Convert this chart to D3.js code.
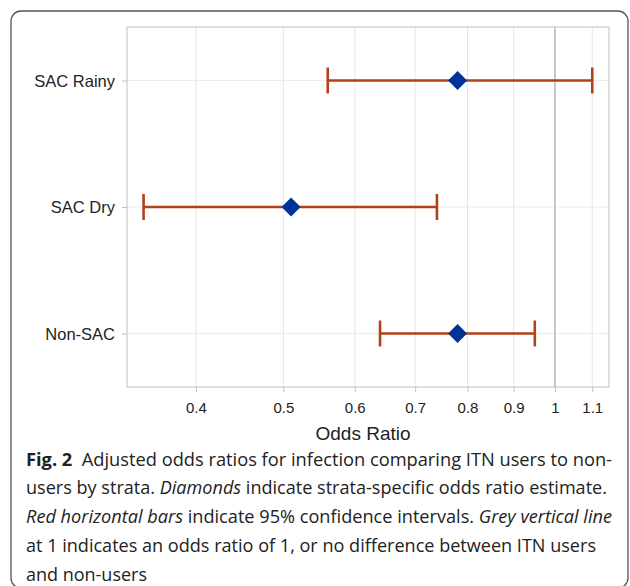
<!DOCTYPE html>
<html><head><meta charset="utf-8">
<script src="https://cdn.jsdelivr.net/npm/d3@7"></script>
<style>body{margin:0;background:#fff}svg{display:block}</style>
</head><body>
<svg id="c" width="630" height="586"></svg>
<script>
const categories = ["SAC Rainy", "SAC Dry", "Non-SAC"];
const estimates = [0.78, 0.51, 0.78];
const lowerCI = [0.56, 0.35, 0.64];
const upperCI = [1.10, 0.74, 0.95];
const tickValues = [0.4, 0.5, 0.6, 0.7, 0.8, 0.9, 1, 1.1];
const tickLabels = ["0.4", "0.5", "0.6", "0.7", "0.8", "0.9", "1", "1.1"];
const refValue = 1;

const svg = d3.select("#c");
const L = 127, R = 609, T = 27, B = 387;

// frame
svg.append("rect").attr("x", 11).attr("y", 11).attr("width", 617).attr("height", 577)
  .attr("rx", 10).attr("fill", "none").attr("stroke", "#555").attr("stroke-width", 1.3);

const x = d3.scaleLog().domain([0.3355, 1.148]).range([L, R]);
const y = d3.scalePoint().domain(categories).range([T, B]).padding(0.423);

const g = svg.append("g");
g.selectAll(".vg").data(tickValues).join("line")
  .attr("x1", d => x(d)).attr("x2", d => x(d)).attr("y1", T).attr("y2", B)
  .attr("stroke", "#e6e6e6").attr("stroke-width", 1);
g.selectAll(".hg").data(categories).join("line")
  .attr("x1", L).attr("x2", R).attr("y1", d => y(d)).attr("y2", d => y(d))
  .attr("stroke", "#ececec").attr("stroke-width", 1);
g.append("line").attr("x1", x(refValue)).attr("x2", x(refValue)).attr("y1", T).attr("y2", B)
  .attr("stroke", "#adadad").attr("stroke-width", 1.2);
g.append("rect").attr("x", L).attr("y", T).attr("width", R - L).attr("height", B - T)
  .attr("fill", "none").attr("stroke", "#c0c0c0").attr("stroke-width", 1);

const xAxis = d3.axisBottom(x).tickValues(tickValues).tickFormat((d, i) => tickLabels[i])
  .tickSize(5).tickPadding(10);
const ax = svg.append("g").attr("transform", `translate(0,${B})`).call(xAxis);
ax.select(".domain").remove();
ax.selectAll(".tick line").attr("stroke", "#c0c0c0");
ax.selectAll(".tick text").attr("font-family", "Liberation Sans, Arial, sans-serif")
  .attr("font-size", 15).attr("fill", "#222");

const yAxis = d3.axisLeft(y).tickSize(5).tickPadding(7);
const ay = svg.append("g").attr("transform", `translate(${L},0)`).call(yAxis);
ay.select(".domain").remove();
ay.selectAll(".tick line").attr("stroke", "#c0c0c0");
ay.selectAll(".tick text").attr("font-family", "Liberation Sans, Arial, sans-serif")
  .attr("font-size", 16.5).attr("fill", "#222").attr("dy", "0.36em");

svg.append("text").attr("x", 363).attr("y", 440).attr("text-anchor", "middle")
  .attr("font-family", "Liberation Sans, Arial, sans-serif").attr("font-size", 19).attr("fill", "#222")
  .text("Odds Ratio");

const col = "#b2401a";
const rows = categories.map((c, i) => ({c, est: estimates[i], lo: lowerCI[i], hi: upperCI[i]}));
const eb = svg.append("g");
eb.selectAll(".bar").data(rows).join("line")
  .attr("x1", d => x(d.lo)).attr("x2", d => x(d.hi)).attr("y1", d => y(d.c)).attr("y2", d => y(d.c))
  .attr("stroke", col).attr("stroke-width", 2.6);
eb.selectAll(".capL").data(rows).join("line")
  .attr("x1", d => x(d.lo)).attr("x2", d => x(d.lo)).attr("y1", d => y(d.c) - 13).attr("y2", d => y(d.c) + 13)
  .attr("stroke", col).attr("stroke-width", 2.6);
eb.selectAll(".capR").data(rows).join("line")
  .attr("x1", d => x(d.hi)).attr("x2", d => x(d.hi)).attr("y1", d => y(d.c) - 13).attr("y2", d => y(d.c) + 13)
  .attr("stroke", col).attr("stroke-width", 2.6);
const s = 9.5;
eb.selectAll(".dm").data(rows).join("path")
  .attr("d", d => { const cx = x(d.est), cy = y(d.c); return `M${cx},${cy - s}L${cx + s},${cy}L${cx},${cy + s}L${cx - s},${cy}Z`; })
  .attr("fill", "#003399");

// caption
const capLines = [
  [["Fig. 2", "bold"], ["  Adjusted odds ratios for infection comparing ITN users to non-", ""]],
  [["users by strata. ", ""], ["Diamonds", "italic"], [" indicate strata-specific odds ratio estimate.", ""]],
  [["Red horizontal bars", "italic"], [" indicate 95% confidence intervals. ", ""], ["Grey vertical line", "italic"]],
  [["at 1 indicates an odds ratio of 1, or no difference between ITN users", ""]],
  [["and non-users", ""]]
];
const capW = [586, 581, 586, 570, 121];
capLines.forEach((ln, i) => {
  const t = svg.append("text").attr("x", 26).attr("y", 465.5 + i * 28.8)
    .attr("font-family", "'Open Sans', 'Noto Sans', sans-serif").attr("font-size", 18.5).attr("fill", "#222")
    .attr("xml:space", "preserve");
  ln.forEach(([txt, st]) => {
    const ts = t.append("tspan").text(txt);
    if (st === "bold") ts.attr("font-weight", "bold");
    if (st === "italic") ts.attr("font-style", "italic");
  });
  t.attr("textLength", capW[i]).attr("lengthAdjust", "spacingAndGlyphs");
});
</script>
</body></html>
